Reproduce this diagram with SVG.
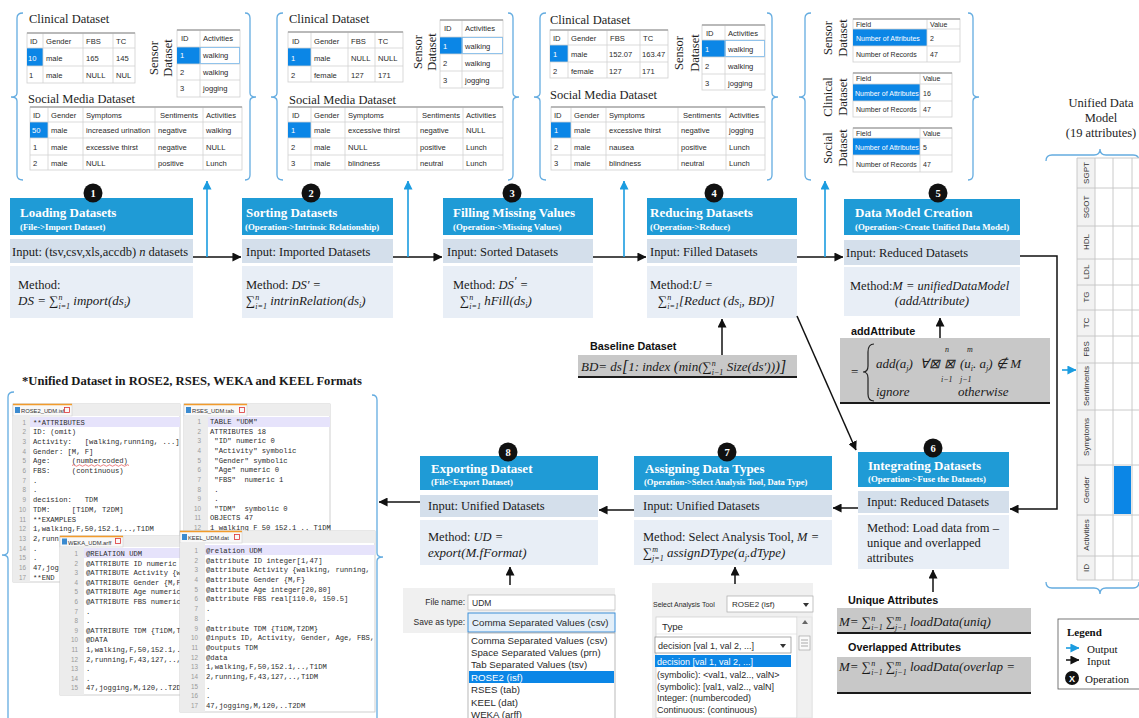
<svg xmlns="http://www.w3.org/2000/svg" width="1139" height="718" viewBox="0 0 1139 718">
<defs>
<style>
.lbl{font-family:"Liberation Serif","Times New Roman",serif;font-size:12.5px;fill:#1e1e1e}
.c{font-family:"Liberation Sans",Arial,sans-serif;font-size:7.6px;fill:#2a2a2a}
.c7{font-family:"Liberation Sans",Arial,sans-serif;font-size:7px;fill:#2a2a2a}
.cw{fill:#fff}
.tb{fill:#fff;stroke:#cfcfcf;stroke-width:0.8}
.gl{fill:none;stroke:#d2d2d2;stroke-width:0.8}
.tt{fill:none;stroke:#a8a8a8;stroke-width:1.6}
.hl{fill:#0b86e6}
.brk{fill:none;stroke:#64ace0;stroke-width:1.3}
.hdr{fill:#1f9bd6}
.inp{fill:#d4dfeb}
.mth{fill:#e8eef6}
.ttl{font-family:"Liberation Serif","Times New Roman",serif;font-weight:bold;font-size:13px;fill:#fff}
.sub{font-family:"Liberation Serif","Times New Roman",serif;font-weight:bold;font-size:8.8px;fill:#fff}
.txt{font-family:"Liberation Serif","Times New Roman",serif;font-size:12.5px;fill:#1a1a1a}
.m{font-family:"Liberation Serif","Times New Roman",serif;font-style:italic;font-size:13px;fill:#1a1a1a}
.sp{font-size:8px}
.cc{fill:#111}
.cn{font-family:"Liberation Serif","Times New Roman",serif;font-size:10.5px;font-weight:bold;fill:#fff;text-anchor:middle}
.lb{fill:none;stroke:#1b9ce0;stroke-width:1.6}
.lk{fill:none;stroke:#111;stroke-width:1.5}
.gb{fill:#c8c8c8}
.gbl{stroke:#1a1a1a;stroke-width:2}
.bl{font-family:"Liberation Sans",Arial,sans-serif;font-weight:bold;font-size:10.8px;fill:#111}
.code{font-family:"Liberation Mono","Courier New",monospace;font-size:7.2px;fill:#2b2b2b;white-space:pre}
.lnum{font-family:"Liberation Sans",Arial,sans-serif;font-size:6.3px;fill:#9a9a9a;text-anchor:end}
.ed{fill:#fff;stroke:#c4c4c4;stroke-width:0.8}
.gut{fill:#ececec}
.strip{fill:#ededed}
.tab{fill:#f8f8f8;stroke:#cfcfcf;stroke-width:0.6}
.tabo{stroke:#f29b2b;stroke-width:1.6}
.tabt{font-family:"Liberation Sans",Arial,sans-serif;font-size:5.8px;fill:#333}
.ui{font-family:"Liberation Sans",Arial,sans-serif;font-size:9.7px;fill:#2a2a2a}
.ui9{font-family:"Liberation Sans",Arial,sans-serif;font-size:9px;fill:#2a2a2a}
.ui8{font-family:"Liberation Sans",Arial,sans-serif;font-size:8.5px;fill:#2a2a2a}
.uiw{fill:#fff}
.vl{font-family:"Liberation Sans",Arial,sans-serif;font-size:8px;fill:#333;text-anchor:middle}
.lg{font-family:"Liberation Serif","Times New Roman",serif;font-size:11px;fill:#111}
.head{font-family:"Liberation Serif","Times New Roman",serif;font-weight:bold;font-size:12.6px;fill:#1a1a1a}
</style>
<marker id="ak" viewBox="0 0 10 10" refX="9.5" refY="5" markerWidth="9" markerHeight="9" markerUnits="userSpaceOnUse" orient="auto"><path d="M0,0 L10,5 L0,10 z" fill="#111"/></marker>
<marker id="ab" viewBox="0 0 10 10" refX="9.5" refY="5" markerWidth="9" markerHeight="9" markerUnits="userSpaceOnUse" orient="auto"><path d="M0,0 L10,5 L0,10 z" fill="#1b9ce0"/></marker>
</defs>

<rect width="1139" height="718" fill="#fff"/>

<!-- ===== Dataset snapshot 1 ===== -->
<g id="snapshot-load">
<path class="brk" d="M23,13 Q17,13 17,18 V93 Q17,97 11,97 Q17,97 17,101 V175 Q17,180 23,180"/>
<path class="brk" d="M245,13 Q250,13 250,18 V93 Q250,97 256,97 Q250,97 250,101 V175 Q250,180 245,180"/>
<text class="lbl" x="29" y="23">Clinical Dataset</text>
<rect class="tb" x="27" y="33" width="108" height="50"/>
<rect class="hl" x="27" y="48" width="16" height="18"/>
<path class="gl" d="M27,48H135M27,66H135M43,33V83M83,33V83M113,33V83"/>
<path class="tt" d="M27,33H135"/>
<text class="c" y="44"><tspan x="30">ID</tspan><tspan x="46">Gender</tspan><tspan x="86">FBS</tspan><tspan x="116">TC</tspan></text>
<text class="c" y="61"><tspan x="28" class="cw">10</tspan><tspan x="46">male</tspan><tspan x="86">165</tspan><tspan x="116">145</tspan></text>
<text class="c" y="78"><tspan x="29">1</tspan><tspan x="46">male</tspan><tspan x="86">NULL</tspan><tspan x="116">NUL</tspan></text>
<text class="lbl" text-anchor="middle" transform="translate(158,58) rotate(-90)">Sensor</text>
<text class="lbl" text-anchor="middle" transform="translate(172,58) rotate(-90)">Dataset</text>
<rect class="tb" x="177" y="30" width="63" height="67"/>
<rect class="hl" x="177" y="47" width="23" height="17"/>
<path class="gl" d="M177,47H240M177,64H240M177,80H240M200,30V97"/>
<rect x="200.5" y="47.5" width="39" height="16" fill="none" stroke="#7ab8ea" stroke-width="0.8"/>
<path class="tt" d="M177,30H240"/>
<text class="c" y="41"><tspan x="181">ID</tspan><tspan x="203">Activities</tspan></text>
<text class="c" y="58"><tspan x="180" class="cw">1</tspan><tspan x="203">walking</tspan></text>
<text class="c" y="75"><tspan x="180">2</tspan><tspan x="203">walking</tspan></text>
<text class="c" y="91"><tspan x="180">3</tspan><tspan x="203">jogging</tspan></text>
<text class="lbl" x="28" y="103">Social Media Dataset</text>
<rect class="tb" x="30" y="107" width="212" height="63"/>
<rect class="hl" x="30" y="122" width="18" height="16"/>
<path class="gl" d="M30,122H242M30,138H242M30,155H242M48,107V170M83,107V170M155,107V170M203,107V170"/>
<path class="tt" d="M30,107H242"/>
<text class="c" y="118"><tspan x="33">ID</tspan><tspan x="51">Gender</tspan><tspan x="86">Symptoms</tspan><tspan x="160">Sentiments</tspan><tspan x="206">Activities</tspan></text>
<text class="c" y="133"><tspan x="32" class="cw">50</tspan><tspan x="51">male</tspan><tspan x="86">increased urination</tspan><tspan x="158">negative</tspan><tspan x="206">walking</tspan></text>
<text class="c" y="150"><tspan x="33">1</tspan><tspan x="51">male</tspan><tspan x="86">excessive thirst</tspan><tspan x="158">negative</tspan><tspan x="206">NULL</tspan></text>
<text class="c" y="166"><tspan x="33">2</tspan><tspan x="51">male</tspan><tspan x="86">NULL</tspan><tspan x="158">positive</tspan><tspan x="206">Lunch</tspan></text>
</g>

<!-- ===== Dataset snapshot 2 ===== -->
<g id="snapshot-sort">
<path class="brk" d="M283,13 Q277,13 277,18 V93 Q277,97 271,97 Q277,97 277,101 V175 Q277,180 283,180"/>
<path class="brk" d="M508,13 Q513,13 513,18 V93 Q513,97 519,97 Q513,97 513,101 V175 Q513,180 508,180"/>
<text class="lbl" x="289" y="23">Clinical Dataset</text>
<rect class="tb" x="288" y="32" width="115" height="50"/>
<rect class="hl" x="288" y="48" width="23" height="18"/>
<path class="gl" d="M288,48H403M288,66H403M311,32V82M348,32V82M375,32V82"/>
<path class="tt" d="M288,32H403"/>
<text class="c" y="44"><tspan x="292">ID</tspan><tspan x="314">Gender</tspan><tspan x="351">FBS</tspan><tspan x="378">TC</tspan></text>
<text class="c" y="61"><tspan x="291" class="cw">1</tspan><tspan x="314">male</tspan><tspan x="351">NULL</tspan><tspan x="378">NULL</tspan></text>
<text class="c" y="78"><tspan x="291">2</tspan><tspan x="314">female</tspan><tspan x="351">127</tspan><tspan x="378">171</tspan></text>
<text class="lbl" text-anchor="middle" transform="translate(422,52) rotate(-90)">Sensor</text>
<text class="lbl" text-anchor="middle" transform="translate(436,52) rotate(-90)">Dataset</text>
<rect class="tb" x="440" y="20" width="63" height="68"/>
<rect class="hl" x="440" y="37" width="22" height="17"/>
<path class="gl" d="M440,37H503M440,54H503M440,71H503M462,20V88"/>
<rect x="462.5" y="37.5" width="40" height="16" fill="none" stroke="#7ab8ea" stroke-width="0.8"/>
<path class="tt" d="M440,20H503"/>
<text class="c" y="31"><tspan x="444">ID</tspan><tspan x="465">Activities</tspan></text>
<text class="c" y="49"><tspan x="443" class="cw">1</tspan><tspan x="465">walking</tspan></text>
<text class="c" y="66"><tspan x="443">2</tspan><tspan x="465">walking</tspan></text>
<text class="c" y="83"><tspan x="443">3</tspan><tspan x="465">jogging</tspan></text>
<text class="lbl" x="289" y="104">Social Media Dataset</text>
<rect class="tb" x="288" y="107" width="215" height="63"/>
<rect class="hl" x="288" y="122" width="23" height="16"/>
<path class="gl" d="M288,122H503M288,138H503M288,155H503M311,107V170M345,107V170M417,107V170M463,107V170"/>
<path class="tt" d="M288,107H503"/>
<text class="c" y="118"><tspan x="292">ID</tspan><tspan x="314">Gender</tspan><tspan x="348">Symptoms</tspan><tspan x="422">Sentiments</tspan><tspan x="466">Activities</tspan></text>
<text class="c" y="133"><tspan x="291" class="cw">1</tspan><tspan x="314">male</tspan><tspan x="348">excessive thirst</tspan><tspan x="420">negative</tspan><tspan x="466">NULL</tspan></text>
<text class="c" y="150"><tspan x="291">2</tspan><tspan x="314">male</tspan><tspan x="348">NULL</tspan><tspan x="420">positive</tspan><tspan x="466">Lunch</tspan></text>
<text class="c" y="166"><tspan x="291">3</tspan><tspan x="314">male</tspan><tspan x="348">blindness</tspan><tspan x="420">neutral</tspan><tspan x="466">Lunch</tspan></text>
</g>

<!-- ===== Dataset snapshot 3 ===== -->
<g id="snapshot-fill">
<path class="brk" d="M546,13 Q540,13 540,18 V93 Q540,97 534,97 Q540,97 540,101 V175 Q540,180 546,180"/>
<path class="brk" d="M767,13 Q772,13 772,18 V93 Q772,97 778,97 Q772,97 772,101 V175 Q772,180 767,180"/>
<text class="lbl" x="550" y="24">Clinical Dataset</text>
<rect class="tb" x="550" y="30" width="118" height="48"/>
<rect class="hl" x="550" y="45" width="18" height="17"/>
<path class="gl" d="M550,45H668M550,62H668M568,30V78M607,30V78M640,30V78"/>
<path class="tt" d="M550,30H668"/>
<text class="c" y="41"><tspan x="553">ID</tspan><tspan x="571">Gender</tspan><tspan x="610">FBS</tspan><tspan x="643">TC</tspan></text>
<text class="c" y="57"><tspan x="553" class="cw">1</tspan><tspan x="571">male</tspan><tspan x="609">152.07</tspan><tspan x="642">163.47</tspan></text>
<text class="c" y="74"><tspan x="553">2</tspan><tspan x="571">female</tspan><tspan x="609">127</tspan><tspan x="642">171</tspan></text>
<text class="lbl" text-anchor="middle" transform="translate(683,53) rotate(-90)">Sensor</text>
<text class="lbl" text-anchor="middle" transform="translate(699,53) rotate(-90)">Dataset</text>
<rect class="tb" x="702" y="25" width="63" height="65"/>
<rect class="hl" x="702" y="40" width="23" height="17"/>
<path class="gl" d="M702,40H765M702,57H765M702,74H765M725,25V90"/>
<rect x="725.5" y="40.5" width="39" height="16" fill="none" stroke="#7ab8ea" stroke-width="0.8"/>
<path class="tt" d="M702,25H765"/>
<text class="c" y="36"><tspan x="706">ID</tspan><tspan x="728">Activities</tspan></text>
<text class="c" y="52"><tspan x="705" class="cw">1</tspan><tspan x="728">walking</tspan></text>
<text class="c" y="69"><tspan x="705">2</tspan><tspan x="728">walking</tspan></text>
<text class="c" y="86"><tspan x="705">3</tspan><tspan x="728">jogging</tspan></text>
<text class="lbl" x="550" y="99">Social Media Dataset</text>
<rect class="tb" x="551" y="107" width="214" height="63"/>
<rect class="hl" x="551" y="122" width="20" height="16"/>
<path class="gl" d="M551,122H765M551,138H765M551,155H765M571,107V170M606,107V170M678,107V170M726,107V170"/>
<path class="tt" d="M551,107H765"/>
<text class="c" y="118"><tspan x="554">ID</tspan><tspan x="574">Gender</tspan><tspan x="609">Symptoms</tspan><tspan x="683">Sentiments</tspan><tspan x="729">Activities</tspan></text>
<text class="c" y="133"><tspan x="554" class="cw">1</tspan><tspan x="574">male</tspan><tspan x="609">excessive thirst</tspan><tspan x="681">negative</tspan><tspan x="729">jogging</tspan></text>
<text class="c" y="150"><tspan x="554">2</tspan><tspan x="574">male</tspan><tspan x="609">nausea</tspan><tspan x="681">positive</tspan><tspan x="729">Lunch</tspan></text>
<text class="c" y="166"><tspan x="554">3</tspan><tspan x="574">male</tspan><tspan x="609">blindness</tspan><tspan x="681">neutral</tspan><tspan x="729">Lunch</tspan></text>
</g>

<!-- ===== Dataset snapshot 4: attribute counts ===== -->
<g id="snapshot-reduce">
<path class="brk" d="M811,13 Q805,13 805,18 V93 Q805,97 799,97 Q805,97 805,101 V175 Q805,180 811,180"/>
<path class="brk" d="M968,13 Q973,13 973,18 V93 Q973,97 979,97 Q973,97 973,101 V175 Q973,180 968,180"/>
<text class="lbl" text-anchor="middle" transform="translate(832,38) rotate(-90)">Sensor</text>
<text class="lbl" text-anchor="middle" transform="translate(847,38) rotate(-90)">Dataset</text>
<rect class="tb" x="853" y="19" width="107" height="43"/>
<rect class="hl" x="853" y="29" width="74" height="17"/>
<path class="gl" d="M853,29H960M853,46H960M927,19V62"/>
<path class="tt" d="M853,19H960"/>
<text class="c7" y="27"><tspan x="856">Field</tspan><tspan x="930">Value</tspan></text>
<text class="c7" y="41"><tspan x="856" class="cw">Number of Attributes</tspan><tspan x="930">2</tspan></text>
<text class="c7" y="57"><tspan x="856">Number of Records</tspan><tspan x="930">47</tspan></text>
<text class="lbl" text-anchor="middle" transform="translate(832,97) rotate(-90)">Clinical</text>
<text class="lbl" text-anchor="middle" transform="translate(847,97) rotate(-90)">Dataset</text>
<rect class="tb" x="853" y="73" width="99" height="44"/>
<rect class="hl" x="853" y="84" width="67" height="17"/>
<path class="gl" d="M853,84H952M853,101H952M920,73V117"/>
<path class="tt" d="M853,73H952"/>
<text class="c7" y="81"><tspan x="856">Field</tspan><tspan x="923">Value</tspan></text>
<text class="c7" y="96"><tspan x="855" class="cw">Number of Attributes</tspan><tspan x="923">16</tspan></text>
<text class="c7" y="112"><tspan x="856">Number of Records</tspan><tspan x="923">47</tspan></text>
<text class="lbl" text-anchor="middle" transform="translate(832,148) rotate(-90)">Social</text>
<text class="lbl" text-anchor="middle" transform="translate(847,148) rotate(-90)">Dataset</text>
<rect class="tb" x="853" y="128" width="99" height="44"/>
<rect class="hl" x="853" y="138" width="67" height="17"/>
<path class="gl" d="M853,138H952M853,155H952M920,128V172"/>
<path class="tt" d="M853,128H952"/>
<text class="c7" y="136"><tspan x="856">Field</tspan><tspan x="923">Value</tspan></text>
<text class="c7" y="150"><tspan x="855" class="cw">Number of Attributes</tspan><tspan x="923">5</tspan></text>
<text class="c7" y="167"><tspan x="856">Number of Records</tspan><tspan x="923">47</tspan></text>
</g>

<!-- ===== Unified data model grid ===== -->
<g id="unified-model">
<text class="lbl" text-anchor="middle" x="1101" y="107">Unified Data</text>
<text class="lbl" text-anchor="middle" x="1101" y="122">Model</text>
<text class="lbl" text-anchor="middle" x="1101" y="137">(19 attributes)</text>
<path class="brk" d="M1046,161 Q1046,155 1052,155 H1094 Q1100,155 1100,149 Q1100,155 1106,155 H1133 Q1139,155 1139,161"/>
<rect x="1077" y="158" width="18" height="422" fill="#f2f2f2"/>
<rect x="1095" y="158" width="44" height="422" fill="#fff"/>
<rect x="1114" y="466" width="17" height="48" fill="#0b86e6"/>
<path fill="none" stroke="#c4c4c4" stroke-width="0.9" d="M1077,158V580M1095,158V580M1113,158V580M1132,158V580M1077,158H1139M1077,188H1139M1077,226H1139M1077,259H1139M1077,285H1139M1077,310H1139M1077,336H1139M1077,363H1139M1077,410H1139M1077,465H1139M1077,515H1139M1077,556H1139M1077,580H1139"/>
<text class="vl" transform="translate(1089,173) rotate(-90)">SGPT</text>
<text class="vl" transform="translate(1089,207) rotate(-90)">SGOT</text>
<text class="vl" transform="translate(1089,242) rotate(-90)">HDL</text>
<text class="vl" transform="translate(1089,272) rotate(-90)">LDL</text>
<text class="vl" transform="translate(1089,297) rotate(-90)">TG</text>
<text class="vl" transform="translate(1089,323) rotate(-90)">TC</text>
<text class="vl" transform="translate(1089,349) rotate(-90)">FBS</text>
<text class="vl" transform="translate(1089,386) rotate(-90)">Sentiments</text>
<text class="vl" transform="translate(1089,437) rotate(-90)">Symptoms</text>
<text class="vl" transform="translate(1089,490) rotate(-90)">Gender</text>
<text class="vl" transform="translate(1089,535) rotate(-90)">Activities</text>
<text class="vl" transform="translate(1089,568) rotate(-90)">ID</text>
<path class="brk" d="M1046,582 Q1046,588 1052,588 H1094 Q1100,588 1100,594 Q1100,588 1106,588 H1133 Q1139,588 1139,582"/>
</g>

<!-- ===== Process nodes ===== -->
<g id="node1">
<rect class="hdr" x="10" y="198" width="183" height="37"/>
<rect class="inp" x="10" y="239" width="183" height="24"/>
<rect class="mth" x="10" y="266" width="183" height="52"/>
<circle class="cc" cx="93" cy="193" r="9.5"/><text class="cn" x="93" y="197">1</text>
<text class="ttl" x="20" y="217">Loading Datasets</text>
<text class="sub" x="20" y="230">(File-&gt;Import Dataset)</text>
<text class="txt" x="12" y="256">Input: (tsv,csv,xls,accdb) <tspan font-style="italic">n</tspan> datasets</text>
<text class="txt" x="18" y="289">Method:</text>
<text class="m" x="18" y="305">DS = ∑<tspan class="sp" dy="-5">n</tspan><tspan class="sp" dx="-4" dy="9">i=1</tspan><tspan dy="-4"> import(ds</tspan><tspan class="sp" dy="3">i</tspan><tspan dy="-3">)</tspan></text>
</g>

<g id="node2">
<rect class="hdr" x="242" y="198" width="151" height="37"/>
<rect class="inp" x="242" y="239" width="151" height="24"/>
<rect class="mth" x="242" y="266" width="151" height="52"/>
<circle class="cc" cx="311" cy="193" r="9.5"/><text class="cn" x="311" y="197">2</text>
<text class="ttl" x="246" y="217">Sorting Datasets</text>
<text class="sub" x="245" y="230">(Operation-&gt;Intrinsic Relationship)</text>
<text class="txt" x="246" y="256">Input: Imported Datasets</text>
<text class="txt" x="246" y="289">Method: <tspan font-style="italic">DS′ =</tspan></text>
<text class="m" x="246" y="305">∑<tspan class="sp" dy="-5">n</tspan><tspan class="sp" dx="-4" dy="9">i=1</tspan><tspan dy="-4"> intrinRelation(ds</tspan><tspan class="sp" dy="3">i</tspan><tspan dy="-3">)</tspan></text>
</g>

<g id="node3">
<rect class="hdr" x="443" y="198" width="150" height="37"/>
<rect class="inp" x="443" y="239" width="150" height="24"/>
<rect class="mth" x="443" y="266" width="150" height="52"/>
<circle class="cc" cx="512" cy="193" r="9.5"/><text class="cn" x="512" y="197">3</text>
<text class="ttl" x="453" y="217">Filling Missing Values</text>
<text class="sub" x="453" y="230">(Operation-&gt;Missing Values)</text>
<text class="txt" x="447" y="256">Input: Sorted Datasets</text>
<text class="txt" x="453" y="289">Method: <tspan font-style="italic">DS<tspan dy="-4">′</tspan><tspan dy="4"> =</tspan></tspan></text>
<text class="m" x="460" y="305">∑<tspan class="sp" dy="-5">n</tspan><tspan class="sp" dx="-4" dy="9">i=1</tspan><tspan dy="-4"> hFill(ds</tspan><tspan class="sp" dy="3">i</tspan><tspan dy="-3">)</tspan></text>
</g>

<g id="node4">
<rect class="hdr" x="647" y="198" width="150" height="37"/>
<rect class="inp" x="647" y="239" width="150" height="24"/>
<rect class="mth" x="647" y="266" width="150" height="52"/>
<circle class="cc" cx="714" cy="193" r="9.5"/><text class="cn" x="714" y="197">4</text>
<text class="ttl" x="650" y="217">Reducing Datasets</text>
<text class="sub" x="650" y="230">(Operation-&gt;Reduce)</text>
<text class="txt" x="650" y="256">Input: Filled Datasets</text>
<text class="txt" x="650" y="289">Method:<tspan font-style="italic">U =</tspan></text>
<text class="m" x="658" y="305">∑<tspan class="sp" dy="-5">n</tspan><tspan class="sp" dx="-4" dy="9">i=1</tspan><tspan dy="-4">[Reduct (ds</tspan><tspan class="sp" dy="3">i</tspan><tspan dy="-3">, BD)]</tspan></text>
</g>

<g id="node5">
<rect class="hdr" x="844" y="199" width="176" height="36"/>
<rect class="inp" x="844" y="240" width="176" height="25"/>
<rect class="mth" x="844" y="267" width="176" height="49"/>
<circle class="cc" cx="938" cy="193" r="9.5"/><text class="cn" x="938" y="197">5</text>
<text class="ttl" x="855" y="217">Data Model Creation</text>
<text class="sub" x="855" y="230">(Operation-&gt;Create Unified Data Model)</text>
<text class="txt" x="846" y="257">Input: Reduced Datasets</text>
<text class="txt" x="850" y="290">Method:<tspan font-style="italic">M = unifiedDataModel</tspan></text>
<text class="m" x="932" y="305" text-anchor="middle">(addAttribute)</text>
</g>

<g id="node6">
<rect class="hdr" x="858" y="452" width="151" height="35"/>
<rect class="inp" x="858" y="491" width="151" height="22"/>
<rect class="mth" x="858" y="515" width="151" height="54"/>
<circle class="cc" cx="933" cy="448" r="9.5"/><text class="cn" x="933" y="452">6</text>
<text class="ttl" x="868" y="470">Integrating Datasets</text>
<text class="sub" x="868" y="482">(Operation-&gt;Fuse the Datasets)</text>
<text class="txt" x="867" y="506">Input: Reduced Datasets</text>
<text class="txt" x="867" y="532">Method: Load data from –</text>
<text class="txt" x="867" y="547">unique and overlapped</text>
<text class="txt" x="867" y="562">attributes</text>
</g>

<g id="node7">
<rect class="hdr" x="634" y="456" width="198" height="34"/>
<rect class="inp" x="634" y="495" width="198" height="22"/>
<rect class="mth" x="634" y="520" width="198" height="45"/>
<circle class="cc" cx="727" cy="452" r="9.5"/><text class="cn" x="727" y="456">7</text>
<text class="ttl" x="645" y="473">Assigning Data Types</text>
<text class="sub" x="644" y="485" style="font-size:8.5px">(Operation-&gt;Select Analysis Tool, Data Type)</text>
<text class="txt" x="643" y="510">Input: Unified Datasets</text>
<text class="txt" x="643" y="541">Method: Select Analysis Tool, <tspan font-style="italic">M =</tspan></text>
<text class="m" x="643" y="557">∑<tspan class="sp" dy="-5">m</tspan><tspan class="sp" dx="-6" dy="9">j=1</tspan><tspan dy="-4"> assignDType(a</tspan><tspan class="sp" dy="3">j</tspan><tspan dy="-3">.dType)</tspan></text>
</g>

<g id="node8">
<rect class="hdr" x="420" y="456" width="178" height="34"/>
<rect class="inp" x="420" y="495" width="178" height="22"/>
<rect class="mth" x="420" y="520" width="178" height="45"/>
<circle class="cc" cx="508" cy="452" r="9.5"/><text class="cn" x="508" y="456">8</text>
<text class="ttl" x="431" y="473">Exporting Dataset</text>
<text class="sub" x="431" y="485">(File&gt;Export Dataset)</text>
<text class="txt" x="428" y="510">Input: Unified Datasets</text>
<text class="txt" x="428" y="541">Method: <tspan font-style="italic">UD =</tspan></text>
<text class="m" x="428" y="557">export(M.fFormat)</text>
</g>

<!-- ===== Formula boxes ===== -->
<g id="baseline-dataset">
<text class="bl" x="590" y="350">Baseline Dataset</text>
<rect class="gb" x="578" y="355" width="219" height="22"/>
<line class="gbl" x1="578" y1="377" x2="797" y2="377"/>
<text class="m" x="581" y="371">BD= ds<tspan font-size="16" dy="1">[</tspan><tspan dy="-1">1: index </tspan><tspan font-size="15">(</tspan>min(∑<tspan class="sp" dy="-5">n</tspan><tspan class="sp" dx="-4" dy="9">i−1</tspan><tspan dy="-4"> Size(ds′))</tspan><tspan font-size="15">)</tspan><tspan font-size="16" dy="1">]</tspan></text>
</g>

<g id="add-attribute">
<text class="bl" x="851" y="335">addAttribute</text>
<rect class="gb" x="840" y="338" width="210" height="65"/>
<line class="gbl" x1="840" y1="403" x2="1050" y2="403"/>
<text class="m" x="851" y="376" style="font-style:normal">=</text>
<path d="M874,344 Q868,344 868,352 V366 Q868,372 863,372 Q868,372 868,378 V394 Q868,401 874,401" fill="none" stroke="#222" stroke-width="1.2"/>
<text class="m" x="876" y="368">add(a<tspan class="sp" dy="3">j</tspan><tspan dy="-3">)</tspan></text>
<text class="m" x="920" y="368">∀⊠</text>
<text class="m" x="944" y="368">⊠</text>
<text class="m" x="960" y="368">(u<tspan class="sp" dy="3">i</tspan><tspan dy="-3">. a</tspan><tspan class="sp" dy="3">j</tspan><tspan dy="-3">) ∉ M</tspan></text>
<text class="m sp" x="945" y="352">n</text>
<text class="m sp" x="967" y="352">m</text>
<text class="m sp" x="941" y="382">i−1</text>
<text class="m sp" x="960" y="382">j−1</text>
<text class="m" x="876" y="396">ignore</text>
<text class="m" x="958" y="396">otherwise</text>
</g>

<g id="unique-attributes">
<text class="bl" x="848" y="604">Unique Attributes</text>
<rect class="gb" x="837" y="608" width="194" height="25"/>
<line class="gbl" x1="837" y1="633" x2="1031" y2="633"/>
<text class="m" x="839" y="626">M= ∑<tspan class="sp" dy="-5">n</tspan><tspan class="sp" dx="-4" dy="9">i−1</tspan><tspan dy="-4"> ∑</tspan><tspan class="sp" dy="-5">m</tspan><tspan class="sp" dx="-6" dy="9">j−1</tspan><tspan dy="-4"> loadData(uniq)</tspan></text>
</g>

<g id="overlapped-attributes">
<text class="bl" x="848" y="651">Overlapped Attributes</text>
<rect class="gb" x="837" y="657" width="194" height="36"/>
<line class="gbl" x1="837" y1="693" x2="1031" y2="693"/>
<text class="m" x="839" y="671">M= ∑<tspan class="sp" dy="-5">n</tspan><tspan class="sp" dx="-4" dy="9">i−1</tspan><tspan dy="-4"> ∑</tspan><tspan class="sp" dy="-5">m</tspan><tspan class="sp" dx="-6" dy="9">j−1</tspan><tspan dy="-4"> loadData(overlap =</tspan></text>
</g>

<!-- ===== Export dialog ===== -->
<g id="save-dialog">
<rect x="403" y="588" width="212" height="45" fill="#f0f0f0"/>
<text class="ui8" x="465" y="605" text-anchor="end">File name:</text>
<rect x="468" y="595" width="147" height="15" fill="#fff" stroke="#b8b8b8" stroke-width="0.7"/>
<text class="ui8" x="472" y="606">UDM</text>
<text class="ui8" x="465" y="625" text-anchor="end">Save as type:</text>
<rect x="468" y="613" width="147" height="19" fill="#e3eff9" stroke="#3c8fd8" stroke-width="1"/>
<text class="ui" x="472" y="626">Comma Separated Values (csv)</text>
<rect x="468" y="633" width="147" height="90" fill="#fff" stroke="#9a9a9a" stroke-width="0.7"/>
<rect x="469" y="671" width="145" height="12" fill="#0b86e6"/>
<text class="ui" x="471" y="644">Comma Separated Values (csv)</text>
<text class="ui" x="471" y="656">Space Separated Values (prn)</text>
<text class="ui" x="471" y="668">Tab Separated Values (tsv)</text>
<text class="ui uiw" x="471" y="681">ROSE2 (isf)</text>
<text class="ui" x="471" y="693">RSES (tab)</text>
<text class="ui" x="471" y="706">KEEL (dat)</text>
<text class="ui" x="471" y="718">WEKA (arff)</text>
</g>

<!-- ===== Analysis tool / data type selector ===== -->
<g id="type-selector">
<rect x="652" y="583" width="161" height="135" fill="#f0f0f0"/>
<text class="ui" x="653" y="607" style="font-size:7px">Select Analysis Tool</text>
<rect x="727" y="596" width="86" height="16" fill="#fff" stroke="#aaa" stroke-width="0.7"/>
<text class="ui" x="732" y="607" style="font-size:8px">ROSE2 (isf)</text>
<path d="M803,603 L809,603 L806,607 z" fill="#333"/>
<rect x="656" y="617" width="141" height="101" fill="#fff" stroke="#ccc" stroke-width="0.7"/>
<text class="ui" x="662" y="630">Type</text>
<line x1="656" y1="634" x2="797" y2="634" stroke="#ddd" stroke-width="0.7"/>
<rect x="797" y="617" width="15" height="101" fill="#f0f0f0" stroke="#ddd" stroke-width="0.6"/>
<path d="M802,624 L808,624 L805,620 z" fill="#666"/>
<rect x="799" y="636" width="11" height="14" fill="#fafafa" stroke="#999" stroke-width="0.6"/>
<path d="M801,640H808M801,643H808M801,646H808" stroke="#777" stroke-width="0.6"/>
<rect x="655" y="637" width="136" height="16" fill="#fff" stroke="#888" stroke-width="0.7"/>
<text class="ui9" x="658" y="649">decision [val 1, val 2, ...]</text>
<path d="M780,644 L786,644 L783,648 z" fill="#333"/>
<rect x="655" y="655" width="136" height="12" fill="#0b86e6"/>
<text class="ui9 uiw" x="657" y="665">decision [val 1, val 2, ...]</text>
<text class="ui9" x="657" y="678">(symbolic): &lt;val1, val2.., valN&gt;</text>
<text class="ui9" x="657" y="690">(symbolic): [val1, val2.., valN]</text>
<text class="ui9" x="657" y="701">Integer: (numbercoded)</text>
<text class="ui9" x="657" y="713">Continuous: (continuous)</text>
</g>

<!-- ===== Exported files ===== -->
<g id="exported-files">
<text class="head" x="22" y="385">*Unified Dataset in ROSE2, RSES, WEKA and KEEL Formats</text>
<path class="brk" d="M14,392 Q8,392 8,397 V551 Q8,555 2,555 Q8,555 8,559 V718"/>
<path class="brk" d="M372,395 Q377,395 377,400 V553 Q377,557 383,557 Q377,557 377,561 V718"/>
</g>

<g id="rose2-file">
<rect class="ed" x="13" y="404" width="167" height="178"/>
<rect class="strip" x="13" y="404" width="167" height="12"/>
<rect class="tab" x="13" y="404" width="59" height="12"/>
<line class="tabo" x1="13" y1="404.5" x2="72" y2="404.5"/>
<rect x="15" y="407" width="5" height="6" fill="#3b8bd0"/>
<text class="tabt" x="21" y="413">ROSE2_UDM.isf</text>
<rect x="64.5" y="407.5" width="5" height="5" fill="none" stroke="#d33" stroke-width="0.8"/>
<rect class="gut" x="13" y="416" width="17" height="166"/>
<rect x="30" y="417" width="150" height="10" fill="#e6e3fb"/>
<text class="lnum"><tspan x="26" y="424.5">1</tspan><tspan x="26" y="434.2">2</tspan><tspan x="26" y="443.9">3</tspan><tspan x="26" y="453.6">4</tspan><tspan x="26" y="463.3">5</tspan><tspan x="26" y="473">6</tspan><tspan x="26" y="482.7">7</tspan><tspan x="26" y="492.4">8</tspan><tspan x="26" y="502.1">9</tspan><tspan x="26" y="511.8">10</tspan><tspan x="26" y="521.5">11</tspan><tspan x="26" y="531.2">12</tspan><tspan x="26" y="540.9">13</tspan><tspan x="26" y="550.6">14</tspan><tspan x="26" y="560.3">15</tspan><tspan x="26" y="570">16</tspan><tspan x="26" y="579.7">17</tspan></text>
<text class="code"><tspan x="33" y="424.5">**ATTRIBUTES</tspan><tspan x="33" y="434.2">ID: (omit)</tspan><tspan x="33" y="443.9">Activity:   [walking,running, ...]</tspan><tspan x="33" y="453.6">Gender: [M, F]</tspan><tspan x="33" y="463.3">Age:     (numbercoded)</tspan><tspan x="33" y="473">FBS:     (continuous)</tspan><tspan x="33" y="482.7">.</tspan><tspan x="33" y="492.4">.</tspan><tspan x="33" y="502.1">decision:   TDM</tspan><tspan x="33" y="511.8">TDM:     [T1DM, T2DM]</tspan><tspan x="33" y="521.5">**EXAMPLES</tspan><tspan x="33" y="531.2">1,walking,F,50,152.1,..,T1DM</tspan><tspan x="33" y="540.9">2,runn</tspan><tspan x="33" y="550.6">.</tspan><tspan x="33" y="560.3">.</tspan><tspan x="33" y="570">47,jog</tspan><tspan x="33" y="579.7">**END</tspan></text>
<path d="M72,465.5 q1.5,-1.5 3,0 t3,0 t3,0 t3,0 t3,0 t3,0 t3,0 t3,0 t3,0 t3,0 t3,0 t3,0 t3,0 t3,0 t3,0 t3,0 t3,0 t3,0 t3,0" fill="none" stroke="#e03030" stroke-width="0.6"/>
</g>

<g id="rses-file">
<rect class="ed" x="184" y="404" width="146" height="128"/>
<rect class="strip" x="184" y="404" width="146" height="12"/>
<rect class="tab" x="184" y="404" width="63" height="12"/>
<line class="tabo" x1="184" y1="404.5" x2="247" y2="404.5"/>
<rect x="186" y="407" width="5" height="6" fill="#3b8bd0"/>
<text class="tabt" x="192" y="413">RSES_UDM.tab</text>
<rect x="239.5" y="407.5" width="5" height="5" fill="none" stroke="#d33" stroke-width="0.8"/>
<rect class="gut" x="184" y="416" width="24" height="116"/>
<rect x="208" y="417" width="122" height="10" fill="#e6e3fb"/>
<text class="lnum"><tspan x="201" y="424">1</tspan><tspan x="201" y="433.6">2</tspan><tspan x="201" y="443.3">3</tspan><tspan x="201" y="452.9">4</tspan><tspan x="201" y="462.6">5</tspan><tspan x="201" y="472.2">6</tspan><tspan x="201" y="481.8">7</tspan><tspan x="201" y="491.5">8</tspan><tspan x="201" y="501.1">9</tspan><tspan x="201" y="510.8">10</tspan><tspan x="201" y="520.4">11</tspan><tspan x="201" y="530">12</tspan></text>
<text class="code"><tspan x="210" y="424">TABLE "UDM"</tspan><tspan x="210" y="433.6">ATTRIBUTES 18</tspan><tspan x="210" y="443.3"> "ID" numeric 0</tspan><tspan x="210" y="452.9"> "Activity" symbolic</tspan><tspan x="210" y="462.6"> "Gender" symbolic</tspan><tspan x="210" y="472.2"> "Age" numeric 0</tspan><tspan x="210" y="481.8"> "FBS"  numeric 1</tspan><tspan x="210" y="491.5"> .</tspan><tspan x="210" y="501.1"> .</tspan><tspan x="210" y="510.8"> "TDM"  symbolic 0</tspan><tspan x="210" y="520.4">OBJECTS 47</tspan><tspan x="210" y="530">1 walking F 50 152.1 .. T1DM</tspan></text>
</g>

<g id="weka-file">
<rect class="ed" x="60" y="536" width="122" height="159"/>
<rect class="strip" x="60" y="536" width="122" height="11"/>
<rect class="tab" x="60" y="536" width="63" height="11"/>
<line class="tabo" x1="60" y1="536.5" x2="123" y2="536.5"/>
<rect x="62" y="538.5" width="5" height="6" fill="#3b8bd0"/>
<text class="tabt" x="68" y="544.5">WEKA_UDM.arff</text>
<rect x="115.5" y="538.5" width="5" height="5" fill="none" stroke="#d33" stroke-width="0.8"/>
<rect class="gut" x="60" y="547" width="24" height="148"/>
<rect x="84" y="548" width="98" height="10" fill="#e6e3fb"/>
<text class="lnum"><tspan x="78" y="556">1</tspan><tspan x="78" y="565.6">2</tspan><tspan x="78" y="575.2">3</tspan><tspan x="78" y="584.8">4</tspan><tspan x="78" y="594.4">5</tspan><tspan x="78" y="604">6</tspan><tspan x="78" y="613.6">7</tspan><tspan x="78" y="623.2">8</tspan><tspan x="78" y="632.8">9</tspan><tspan x="78" y="642.4">10</tspan><tspan x="78" y="652">11</tspan><tspan x="78" y="661.6">12</tspan><tspan x="78" y="671.2">13</tspan><tspan x="78" y="680.8">14</tspan><tspan x="78" y="690.4">15</tspan></text>
<text class="code"><tspan x="86" y="556">@RELATION UDM</tspan><tspan x="86" y="565.6">@ATTRIBUTE ID numeric</tspan><tspan x="86" y="575.2">@ATTRIBUTE Activity {w</tspan><tspan x="86" y="584.8">@ATTRIBUTE Gender {M,F</tspan><tspan x="86" y="594.4">@ATTRIBUTE Age numeric</tspan><tspan x="86" y="604">@ATTRIBUTE FBS numeric</tspan><tspan x="86" y="613.6">.</tspan><tspan x="86" y="623.2">.</tspan><tspan x="86" y="632.8">@ATTRIBUTE TDM {T1DM,T</tspan><tspan x="86" y="642.4">@DATA</tspan><tspan x="86" y="652">1,walking,F,50,152.1,.</tspan><tspan x="86" y="661.6">2,running,F,43,127,..,</tspan><tspan x="86" y="671.2">.</tspan><tspan x="86" y="680.8">.</tspan><tspan x="86" y="690.4">47,jogging,M,120,..T2D</tspan></text>
</g>

<g id="keel-file">
<rect class="ed" x="180" y="531" width="195" height="181"/>
<rect class="strip" x="180" y="531" width="195" height="12"/>
<rect class="tab" x="180" y="531" width="62" height="12"/>
<line class="tabo" x1="180" y1="531.5" x2="242" y2="531.5"/>
<rect x="182" y="534" width="5" height="6" fill="#3b8bd0"/>
<text class="tabt" x="188" y="540">KEEL_UDM.dat</text>
<rect x="234.5" y="534.5" width="5" height="5" fill="none" stroke="#d33" stroke-width="0.8"/>
<rect class="gut" x="180" y="543" width="25" height="169"/>
<rect x="205" y="545" width="170" height="10" fill="#e6e3fb"/>
<text class="lnum"><tspan x="198" y="553">1</tspan><tspan x="198" y="562.7">2</tspan><tspan x="198" y="572.4">3</tspan><tspan x="198" y="582.1">4</tspan><tspan x="198" y="591.8">5</tspan><tspan x="198" y="601.4">6</tspan><tspan x="198" y="611.1">7</tspan><tspan x="198" y="620.8">8</tspan><tspan x="198" y="630.5">9</tspan><tspan x="198" y="640.2">10</tspan><tspan x="198" y="649.9">11</tspan><tspan x="198" y="659.6">12</tspan><tspan x="198" y="669.3">13</tspan><tspan x="198" y="678.9">14</tspan><tspan x="198" y="688.6">15</tspan><tspan x="198" y="698.3">16</tspan><tspan x="198" y="708">17</tspan></text>
<text class="code"><tspan x="206" y="553">@relation UDM</tspan><tspan x="206" y="562.7">@attribute ID integer[1,47]</tspan><tspan x="206" y="572.4">@attribute Activity {walking, running,</tspan><tspan x="206" y="582.1">@attribute Gender {M,F}</tspan><tspan x="206" y="591.8">@attribute Age integer[20,80]</tspan><tspan x="206" y="601.4">@attribute FBS real[110.0, 150.5]</tspan><tspan x="206" y="611.1">.</tspan><tspan x="206" y="620.8">.</tspan><tspan x="206" y="630.5">@attribute TDM {T1DM,T2DM}</tspan><tspan x="206" y="640.2">@inputs ID, Activity, Gender, Age, FBS,</tspan><tspan x="206" y="649.9">@outputs TDM</tspan><tspan x="206" y="659.6">@data</tspan><tspan x="206" y="669.3">1,walking,F,50,152.1,..,T1DM</tspan><tspan x="206" y="678.9">2,running,F,43,127,..,T1DM</tspan><tspan x="206" y="688.6">.</tspan><tspan x="206" y="698.3">.</tspan><tspan x="206" y="708">47,jogging,M,120,..T2DM</tspan></text>
</g>

<!-- ===== Legend ===== -->
<g id="legend">
<rect x="1058" y="619" width="85" height="70" fill="#fff" stroke="#555" stroke-width="0.8"/>
<text class="lg" x="1067" y="636" style="font-weight:bold">Legend</text>
<line class="lb" x1="1066" y1="648" x2="1079" y2="648" marker-end="url(#ab)"/>
<text class="lg" x="1087" y="653">Output</text>
<line class="lk" x1="1066" y1="660" x2="1079" y2="660" marker-end="url(#ak)"/>
<text class="lg" x="1087" y="665">Input</text>
<circle cx="1072" cy="678" r="7" fill="#111"/>
<text x="1072" y="682" text-anchor="middle" font-family="Liberation Sans, Arial, sans-serif" font-weight="bold" font-size="9" fill="#fff">X</text>
<text class="lg" x="1085" y="683">Operation</text>
</g>

<!-- ===== Connectors ===== -->
<g id="connectors">
<path class="lk" d="M193,257 H241" marker-end="url(#ak)"/>
<path class="lb" d="M207,257 V181" marker-end="url(#ab)"/>
<path class="lk" d="M393,257 H442" marker-end="url(#ak)"/>
<path class="lb" d="M408,257 V181" marker-end="url(#ab)"/>
<path class="lk" d="M593,257 H646" marker-end="url(#ak)"/>
<path class="lb" d="M624,257 V181" marker-end="url(#ab)"/>
<path class="lk" d="M797,257 H843" marker-end="url(#ak)"/>
<path class="lb" d="M825,257 V181" marker-end="url(#ab)"/>
<path class="lk" d="M1020,256 H1057 V509 H1010" marker-end="url(#ak)"/>
<path class="lk" d="M797,316 L856,450" marker-end="url(#ak)"/>
<path class="lk" d="M722,355 V319" marker-end="url(#ak)"/>
<path class="lk" d="M940,338 V318" marker-end="url(#ak)"/>
<path class="lk" d="M858,508 H833" marker-end="url(#ak)"/>
<path class="lk" d="M634,510 H599" marker-end="url(#ak)"/>
<path class="lk" d="M420,502 H379" marker-end="url(#ak)"/>
<path class="lk" d="M933,592 V570" marker-end="url(#ak)"/>
<path class="lk" d="M510,585 V567" marker-end="url(#ak)"/>
<path class="lk" d="M735,584 V567" marker-end="url(#ak)"/>
<path class="lb" d="M1062,370 H1076" marker-end="url(#ab)"/>
</g>
</svg>
